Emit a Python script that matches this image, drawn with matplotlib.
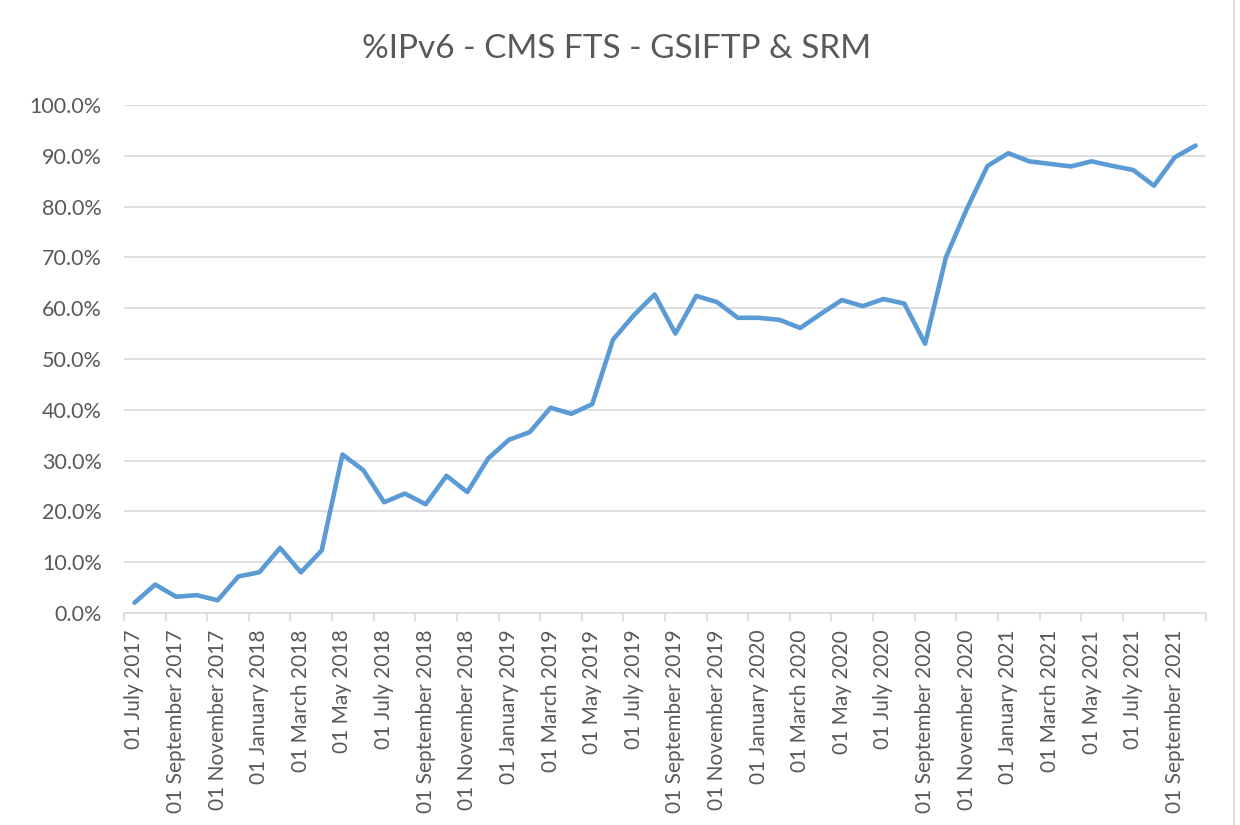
import matplotlib
matplotlib.use("Agg")
import matplotlib.pyplot as plt
import matplotlib.ticker as mticker
import numpy as np
import pandas as pd

# monthly share of IPv6 transfers (%), July 2017 .. October 2021
months = pd.date_range("2017-07-01", periods=52, freq="MS")
ipv6_pct = [
    2.0, 5.6, 3.2, 3.5, 2.5, 7.2,
    8.0, 12.8, 8.0, 12.3, 31.2, 28.1, 21.8, 23.5, 21.4, 27.0, 23.8, 30.4,
    34.1, 35.6, 40.4, 39.2, 41.1, 53.8, 58.6, 62.7, 55.0, 62.4, 61.2, 58.1,
    58.1, 57.7, 56.1, 58.9, 61.6, 60.4, 61.8, 60.9, 53.0, 70.0, 79.5, 88.0,
    90.5, 88.9, 88.4, 87.9, 88.9, 88.0, 87.2, 84.1, 89.7, 92.0,
]
yticks = [0, 10, 20, 30, 40, 50, 60, 70, 80, 90, 100]
title = "%IPv6 - CMS FTS - GSIFTP & SRM"

text_col = "#595959"
grid_col = "#d9d9d9"
line_col = "#5b9bd5"

plt.rcParams['font.family'] = ['Lato', 'DejaVu Sans']

fig = plt.figure(figsize=(12.4, 8.25), dpi=100)
ax = fig.add_axes([0.1, 0.257, 0.8726, 0.6158])

x = np.arange(len(months))
ax.plot(x, ipv6_pct, color=line_col, lw=3.3, solid_joinstyle='round', solid_capstyle='round', zorder=3)

ax.set_ylim(0, 100)
ax.set_xlim(-0.5, len(months) - 0.5)
ax.set_yticks(yticks)
ax.yaxis.set_major_formatter(mticker.FuncFormatter(lambda v, p: f"{v:.1f}%"))
ax.yaxis.grid(True, color=grid_col, lw=1.2)
ax.set_axisbelow(True)

# labels every second month, ticks on category boundaries
ax.set_xticks(x[::2])
ax.set_xticklabels([d.strftime("%d %B %Y") for d in months[::2]], rotation=90)
ax.set_xticks(np.arange(-0.5, len(months), 2), minor=True)
ax.tick_params(axis='x', which='major', length=0, pad=12, labelsize=15.0, labelcolor=text_col)
ax.tick_params(axis='x', which='minor', length=6, color=grid_col, width=1.2)
ax.tick_params(axis='y', length=0, pad=16, labelsize=15.5, labelcolor=text_col)

for s in ['top', 'right', 'left']:
    ax.spines[s].set_visible(False)
ax.spines['bottom'].set_color(grid_col)
ax.spines['bottom'].set_linewidth(1.2)

fig.text(0.497, 0.94, title, ha='center', va='center', fontsize=24, color=text_col)

# faint chart-area border on the right
fig.add_artist(plt.Line2D([0.9955, 0.9955], [0, 1], color=grid_col, lw=1.2))

fig.savefig("out.png", dpi=100, facecolor="white")
